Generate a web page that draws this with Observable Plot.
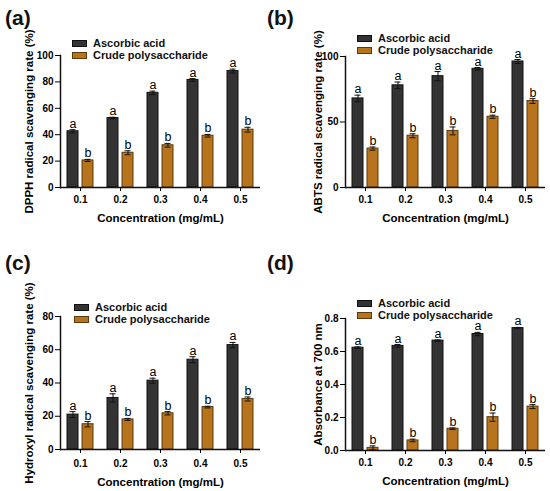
<!DOCTYPE html>
<html>
<head>
<meta charset="utf-8">
<script src="https://cdn.jsdelivr.net/npm/d3@7"></script>
<script src="https://cdn.jsdelivr.net/npm/@observablehq/plot@0.6"></script>
<style>
  body { margin: 0; background: #fff; }
  #wrap { position: relative; width: 550px; height: 491px; overflow: hidden; font-family: 'Liberation Sans', Arial, sans-serif; color: #111; }
  .panel { position: absolute; }
  .tag { position: absolute; font-weight: bold; font-size: 21px; line-height: 1; }
  .legend { position: absolute; font-weight: bold; font-size: 11px; line-height: 1; }
  .legend .row { display: flex; align-items: center; height: 12px; }
  .legend .sw { width: 15px; height: 7px; border: 1px solid #111; margin-right: 6px; box-sizing: border-box; }
</style>
</head>
<body>
<div id="wrap"></div>
<script>
// ---- data ----
const concentrations = ["0.1", "0.2", "0.3", "0.4", "0.5"];
const series = ["Ascorbic acid", "Crude polysaccharide"];
const letters = ["a", "b"];
const fills = ["#333333", "#B8741C"];
const strokes = ["#111111", "#5a3a0e"];

const dpphAscorbic = [42.6, 52.6, 71.7, 81.5, 88.2];
const dpphAscorbicErr = [1.2, 0.6, 1.3, 1.0, 1.5];
const dpphCrude = [20.5, 26.3, 32.0, 39.2, 43.8];
const dpphCrudeErr = [0.8, 1.5, 1.4, 1.0, 1.8];

const abtsAscorbic = [68.0, 78.0, 85.0, 90.6, 96.2];
const abtsAscorbicErr = [2.5, 2.5, 3.5, 1.0, 1.5];
const abtsCrude = [29.7, 39.5, 43.2, 54.0, 66.0];
const abtsCrudeErr = [1.2, 1.5, 3.0, 1.2, 1.8];

const hydroxylAscorbic = [21.0, 31.0, 41.4, 54.0, 62.8];
const hydroxylAscorbicErr = [1.8, 2.5, 1.5, 1.8, 1.6];
const hydroxylCrude = [15.2, 18.1, 21.8, 25.5, 30.4];
const hydroxylCrudeErr = [1.6, 0.6, 1.0, 0.5, 1.2];

const absAscorbic = [0.623, 0.634, 0.666, 0.706, 0.742];
const absAscorbicErr = [0.005, 0.008, 0.004, 0.010, 0.004];
const absCrude = [0.016, 0.061, 0.132, 0.202, 0.266];
const absCrudeErr = [0.012, 0.008, 0.005, 0.025, 0.012];

const dpphTicks = [0, 20, 40, 60, 80, 100];
const abtsTicks = [0, 50, 100];
const hydroxylTicks = [0, 20, 40, 60, 80];
const absTicks = [0, 0.2, 0.4, 0.6, 0.8];

// ---- helpers ----
function rowsOf(asc, ascErr, crude, crudeErr) {
  return concentrations.flatMap((c, i) => [
    {conc: c, series: series[0], value: asc[i], err: ascErr[i], letter: letters[0]},
    {conc: c, series: series[1], value: crude[i], err: crudeErr[i], letter: letters[1]}
  ]);
}

const wrap = document.getElementById("wrap");

function panel(cfg) {
  const rows = rowsOf(cfg.asc, cfg.ascErr, cfg.crude, cfg.crudeErr);
  const hi = d => d.value + d.err;
  const lo = d => d.value - d.err;
  const strokeOf = d => strokes[series.indexOf(d.series)];
  const chart = Plot.plot({
    width: 275,
    height: cfg.h,
    marginLeft: cfg.ml, marginRight: cfg.mr, marginTop: cfg.mt, marginBottom: cfg.mb,
    style: {fontFamily: "'Liberation Sans', Arial, sans-serif", fontWeight: "bold", fontSize: "10px", color: "#000", background: "transparent", overflow: "visible"},
    fx: {domain: concentrations, padding: 0},
    x: {domain: series, paddingInner: 0.3, paddingOuter: 0.48, axis: null},
    y: {domain: cfg.yDomain},
    color: {domain: series, range: fills},
    marks: [
      Plot.barY(rows, {fx: "conc", x: "series", y: "value", fill: "series", stroke: strokeOf, strokeWidth: 1}),
      Plot.ruleX(rows, {fx: "conc", x: "series", y1: lo, y2: hi, stroke: "#111", strokeWidth: 1}),
      Plot.tickY(rows, {fx: "conc", x: "series", y: hi, stroke: "#111", strokeWidth: 1, insetLeft: 2.5, insetRight: 2.5}),
      Plot.tickY(rows, {fx: "conc", x: "series", y: lo, stroke: "#111", strokeWidth: 1, insetLeft: 2.5, insetRight: 2.5}),
      Plot.text(rows, {fx: "conc", x: "series", y: hi, text: "letter", dy: -2, lineAnchor: "bottom", fontWeight: "normal", fontSize: 12.5, fill: "#000"}),
      Plot.ruleY([0], {stroke: "#111", strokeWidth: 1.5}),
      Plot.frame({anchor: "left", facetAnchor: "left", stroke: "#111", strokeWidth: 1.5}),
      Plot.axisY({ticks: cfg.yTicks, tickFormat: cfg.yFormat, tickSize: 5, tickPadding: 2, label: null, fontSize: 10}),
      Plot.axisY({ticks: [], tickSize: 0, label: cfg.yLabel, labelAnchor: "center", labelArrow: "none", labelOffset: cfg.ylo, fontSize: 11.5}),
      Plot.axisFx({anchor: "bottom", tickSize: 4, tickPadding: cfg.xtp, label: null, fontSize: 10}),
      Plot.axisFx({anchor: "bottom", ticks: [], tickSize: 0, label: "Concentration (mg/mL)", labelAnchor: "center", labelArrow: "none", labelOffset: cfg.xlo, fontSize: 11.5})
    ]
  });
  const div = document.createElement("div");
  div.className = "panel";
  div.style.left = cfg.left + "px";
  div.style.top = cfg.top + "px";
  div.appendChild(chart);
  wrap.appendChild(div);

  const tag = document.createElement("div");
  tag.className = "tag";
  tag.textContent = cfg.tag;
  tag.style.left = cfg.tagX + "px";
  tag.style.top = cfg.tagY + "px";
  wrap.appendChild(tag);

  const lg = document.createElement("div");
  lg.className = "legend";
  lg.style.left = cfg.lgX + "px";
  lg.style.top = cfg.lgY + "px";
  series.forEach((s, i) => {
    const r = document.createElement("div");
    r.className = "row";
    const sw = document.createElement("div");
    sw.className = "sw";
    sw.style.background = fills[i];
    sw.style.borderColor = strokes[i];
    const t = document.createElement("span");
    t.textContent = s;
    r.appendChild(sw); r.appendChild(t);
    lg.appendChild(r);
  });
  wrap.appendChild(lg);
}

panel({tag: "(a)", tagX: 5, tagY: 7, left: 0, top: 0, h: 245, ml: 60, mr: 15, mt: 55, mb: 58,
  asc: dpphAscorbic, ascErr: dpphAscorbicErr, crude: dpphCrude, crudeErr: dpphCrudeErr,
  yDomain: [0, 100], yTicks: dpphTicks, yFormat: d3.format("d"),
  yLabel: "DPPH radical scavenging rate (%)", ylo: 36, xtp: 4, xlo: 34, lgX: 72, lgY: 37});

panel({tag: "(b)", tagX: 267, tagY: 7, left: 275, top: 0, h: 245, ml: 68, mr: 4, mt: 56, mb: 58,
  asc: abtsAscorbic, ascErr: abtsAscorbicErr, crude: abtsCrude, crudeErr: abtsCrudeErr,
  yDomain: [0, 100], yTicks: abtsTicks, yFormat: d3.format("d"),
  yLabel: "ABTS radical scavenging rate (%)", ylo: 32, xtp: 4, xlo: 34, lgX: 357, lgY: 32});

panel({tag: "(c)", tagX: 5, tagY: 252, left: 0, top: 245, h: 246, ml: 60, mr: 15, mt: 71, mb: 42,
  asc: hydroxylAscorbic, ascErr: hydroxylAscorbicErr, crude: hydroxylCrude, crudeErr: hydroxylCrudeErr,
  yDomain: [0, 80], yTicks: hydroxylTicks, yFormat: d3.format("d"),
  yLabel: "Hydroxyl radical scavenging rate (%)", ylo: 36, xtp: 6, xlo: 36, lgX: 74, lgY: 301});

panel({tag: "(d)", tagX: 267, tagY: 252, left: 275, top: 245, h: 246, ml: 68, mr: 4, mt: 73, mb: 41,
  asc: absAscorbic, ascErr: absAscorbicErr, crude: absCrude, crudeErr: absCrudeErr,
  yDomain: [0, 0.8], yTicks: absTicks, yFormat: d3.format(".1f"),
  yLabel: "Absorbance at 700 nm", ylo: 32, xtp: 4, xlo: 34, lgX: 357, lgY: 297});
</script>
</body>
</html>
